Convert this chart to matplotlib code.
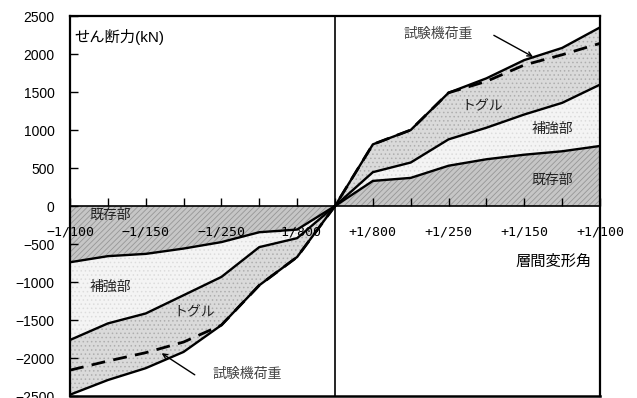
import matplotlib
matplotlib.use("Agg")
import matplotlib.pyplot as plt
import numpy as np

plt.rcParams['font.family'] = ['Liberation Sans', 'Noto Sans CJK JP', 'DejaVu Sans']
plt.rcParams['hatch.linewidth'] = 0.6

# Drift-angle steps: -1/100 ... 0 ... +1/100 on an evenly spaced index axis
steps = [-7, -6, -5, -4, -3, -2, -1, 0, 1, 2, 3, 4, 5, 6, 7]
tick_text = ['−1/100', '', '−1/150', '', '−1/250', '', '−1/800', '',
             '+1/800', '', '+1/250', '', '+1/150', '', '+1/100']

# Cumulative shear force (kN)
existing = [-740, -660, -630, -560, -475, -345, -310, 0, 330, 370, 530, 615, 675, 720, 790]
reinforced = [-1763, -1545, -1414, -1174, -933, -541, -423, 0, 445, 572, 877, 1030, 1204, 1357, 1597]
toggle = [-2483, -2290, -2134, -1920, -1567, -1043, -671, 0, 811, 1000, 1490, 1680, 1920, 2080, 2350]
test_load = [-2160, -2040, -1930, -1790, -1567, -1043, -671, 0, 811, 1000, 1490, 1640, 1855, 1990, 2140]

yticks = [-2500, -2000, -1500, -1000, -500, 0, 500, 1000, 1500, 2000, 2500]

fig = plt.figure(figsize=(6.37, 3.98), dpi=100)
ax = fig.add_axes([70 / 637, 1 - 396 / 398, 530 / 637, 380 / 398])

x = np.array(steps)
zero = np.zeros_like(x)

# Shaded contributions
ax.fill_between(x, zero, existing, facecolor='#c6c6c6', hatch='//////',
                edgecolor='#969696', linewidth=0, zorder=1)
ax.fill_between(x, existing, reinforced, facecolor='#f4f4f4', hatch='....',
                edgecolor='#dcdcdc', linewidth=0, zorder=1)
ax.fill_between(x, reinforced, toggle, facecolor='#dadada', hatch='....',
                edgecolor='#aeaeae', linewidth=0, zorder=1)

for series in (existing, reinforced, toggle):
    ax.plot(x, series, color='black', lw=1.7, zorder=3, solid_joinstyle='round')
ax.plot(x, test_load, color='black', lw=2.0, ls=(0, (5, 3)), zorder=4)

ax.set_xlim(-7, 7)
ax.set_ylim(-2500, 2500)

# Axis lines through the origin
ax.axvline(0, color='black', lw=1.2, zorder=5)
ax.spines['bottom'].set_position(('data', 0))
ax.spines['bottom'].set_linewidth(1.2)
ax.plot([0, 1], [0, 0], transform=ax.transAxes, color='black', lw=1.8,
        clip_on=False, zorder=6)
for side in ('left', 'right', 'top'):
    ax.spines[side].set_linewidth(1.6)

ax.set_xticks(steps)
ax.set_xticklabels(tick_text, fontfamily='DejaVu Sans Mono', fontsize=9.5)
ax.tick_params(axis='x', direction='in', length=6, width=1, pad=14)
ax.set_yticks(yticks)
ax.set_yticklabels([str(v).replace('-', '−') for v in yticks], fontsize=10)
ax.tick_params(axis='y', direction='in', length=6, width=1, pad=11)

ax.text(0.009, 0.945, 'せん断力(kN)', transform=ax.transAxes, fontsize=11,
        ha='left', va='center')
ax.text(0.913, 0.354, '層間変形角', transform=ax.transAxes, fontsize=11,
        ha='center', va='center')

label_kw = dict(fontsize=10, ha='center', va='center', color='#222222', zorder=7)
ax.text(3.90, 1309, 'トグル', **label_kw)
ax.text(5.73, 1021, '補強部', **label_kw)
ax.text(5.73, 340, '既存部', **label_kw)
ax.text(-5.94, -118, '既存部', **label_kw)
ax.text(-5.94, -1060, '補強部', **label_kw)
ax.text(-3.71, -1400, 'トグル', **label_kw)

arrow_kw = dict(arrowstyle='->', lw=1.0, color='black', mutation_scale=8)
ax.annotate('試験機荷重', xy=(5.23, 1963), xytext=(2.73, 2264), fontsize=10,
            color='#444444', ha='center', va='center',
            arrowprops=dict(arrow_kw, shrinkA=0, shrinkB=0, relpos=(1.3, 0.4)),
            zorder=7)
ax.annotate('試験機荷重', xy=(-4.58, -1937), xytext=(-2.33, -2212), fontsize=10,
            color='#444444', ha='center', va='center',
            arrowprops=dict(arrow_kw, shrinkA=0, shrinkB=0, relpos=(-0.25, 0.45)),
            zorder=7)

fig.savefig('out.png', dpi=100)
